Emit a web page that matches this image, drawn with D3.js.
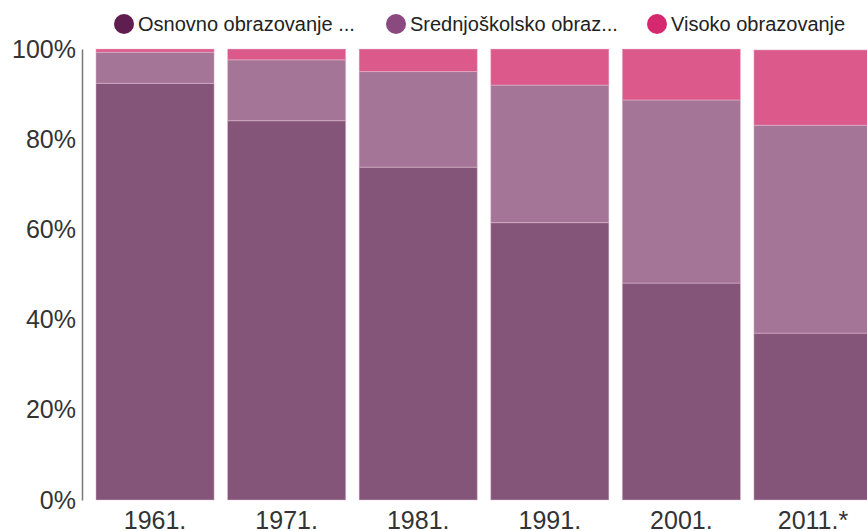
<!DOCTYPE html>
<html>
<head>
<meta charset="utf-8">
<script src="https://cdn.jsdelivr.net/npm/d3@7"></script>
<style>
  html, body { margin: 0; padding: 0; background: #fff; overflow: hidden; }
  svg { display: block; font-family: "Liberation Sans", Arial, sans-serif; }
</style>
</head>
<body>
<div id="chart"></div>
<script>
// data (shares in %)
const years = ['1961.', '1971.', '1981.', '1991.', '2001.', '2011.*'];
const osnovno = [92.4, 84.1, 73.8, 61.5, 48.1, 37.0];
const srednje = [6.9, 13.5, 21.2, 30.5, 40.6, 46.1];
const visoko = [0.7, 2.4, 5.0, 8.0, 11.3, 16.7];
const seriesNames = ['Osnovno obrazovanje ...', 'Srednjoškolsko obraz...', 'Visoko obrazovanje'];
const yTicks = [0, 20, 40, 60, 80, 100];

const legendColors = ['#5f1d50', '#8b4a7f', '#d6286f'];
const barColors = ['#845579', '#a57598', '#dc598b'];

const W = 867, H = 531;
const margin = { top: 49, left: 82, bottom: 31 };
const innerH = H - margin.top - margin.bottom;

const svg = d3.select('#chart').append('svg')
  .attr('width', W)
  .attr('height', H);

const rows = years.map((y, i) => ({ year: y, osnovno: osnovno[i], srednje: srednje[i], visoko: visoko[i] }));
const keys = ['osnovno', 'srednje', 'visoko'];
const stacked = d3.stack().keys(keys)(rows);

const x = d3.scaleBand()
  .domain(years)
  .range([margin.left, margin.left + 804])
  .paddingInner(0.102)
  .paddingOuter(0.106);

const y = d3.scaleLinear()
  .domain([0, 100])
  .range([margin.top + innerH, margin.top]);

// bars
svg.append('g')
  .selectAll('g')
  .data(stacked)
  .join('g')
  .attr('fill', (d, i) => barColors[i])
  .selectAll('rect')
  .data(d => d)
  .join('rect')
  .attr('x', d => x(d.data.year))
  .attr('y', d => y(d[1]))
  .attr('width', x.bandwidth())
  .attr('height', d => y(d[0]) - y(d[1]))
  .attr('stroke', '#e9c3d8')
  .attr('stroke-opacity', 0.45)
  .attr('stroke-width', 1);

// y axis
const yAxis = svg.append('g')
  .attr('transform', `translate(${margin.left},0)`)
  .call(d3.axisLeft(y).tickValues(yTicks).tickFormat(d => d + '%').tickSize(0).tickPadding(6));
yAxis.select('.domain').attr('stroke', '#777').attr('stroke-width', 1.5);
yAxis.selectAll('text')
  .attr('fill', '#333')
  .style('font-size', '25px')
  .attr('dy', '0.32em');

// x axis (labels run off the bottom edge, as in the reference)
const xAxis = svg.append('g')
  .attr('transform', `translate(0,${margin.top + innerH})`)
  .call(d3.axisBottom(x).tickSize(0).tickPadding(11));
xAxis.select('.domain').remove();
xAxis.selectAll('text')
  .attr('fill', '#333')
  .style('font-size', '25px');

// legend
const legendX = [124, 396, 657];
const legend = svg.append('g');
seriesNames.forEach((name, i) => {
  const g = legend.append('g').attr('transform', `translate(${legendX[i]},24)`);
  g.append('circle').attr('r', 10).attr('fill', legendColors[i]);
  g.append('text')
    .attr('x', 14)
    .attr('dy', '0.35em')
    .attr('fill', '#222')
    .style('font-size', '20px')
    .text(name);
});
</script>
</body>
</html>
